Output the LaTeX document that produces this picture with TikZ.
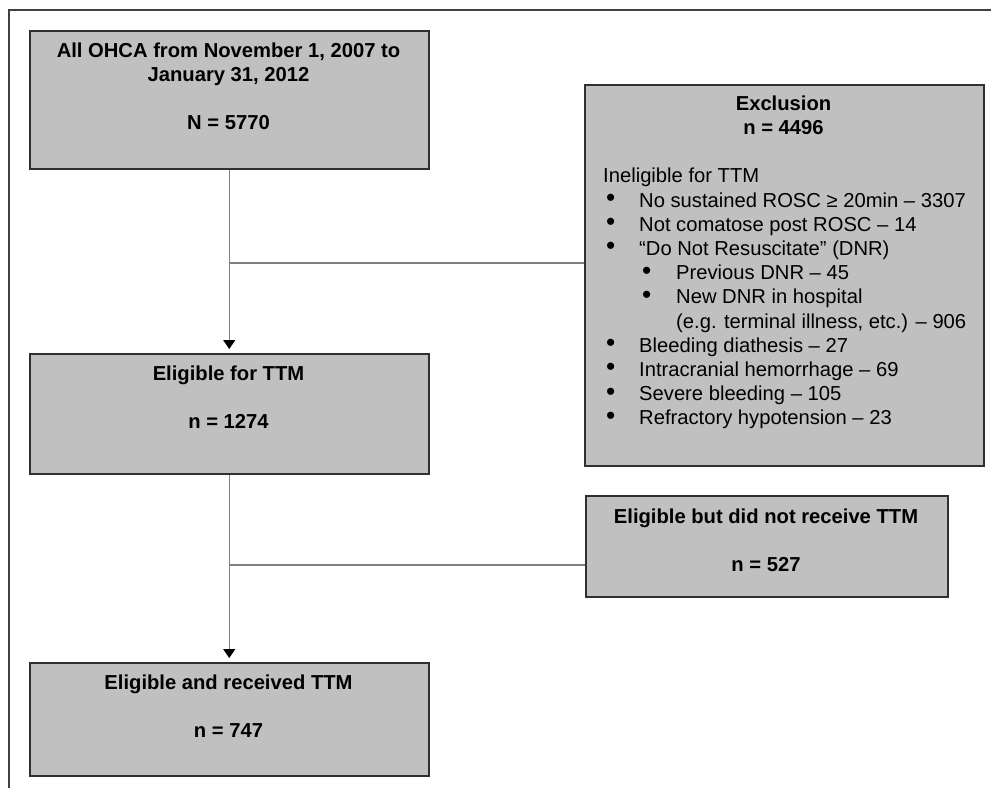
\documentclass[tikz,border=0pt]{standalone}
\usepackage{fontspec}
\setmainfont{Liberation Sans}
\usetikzlibrary{arrows.meta}
\definecolor{boxfill}{HTML}{C0C0C0}
\definecolor{boxline}{HTML}{303030}
\definecolor{conn}{HTML}{808080}
\newcommand\bulletmark{\raisebox{0.5pt}{\scalebox{1.3}{\textbullet}}}
\newcommand\bitem[1]{\makebox[36pt][l]{\hspace*{3pt}\bulletmark}#1}
\newcommand\sitem[1]{\hspace*{36pt}\makebox[37pt][l]{\hspace*{3pt}\bulletmark}#1}
\begin{document}
\begin{tikzpicture}[x=1pt,y=-1pt,
  flowbox/.style={draw=boxline,line width=1.5pt,fill=boxfill,inner sep=0pt,anchor=north west},
  boxtext/.style={inner sep=0pt,anchor=north,align=center,font=\fontsize{20.2}{24}\selectfont\bfseries},
  listtext/.style={inner sep=0pt,anchor=north west,align=left,font=\fontsize{20.2}{24.2}\selectfont},
  conline/.style={draw=conn,line width=1.3pt},
  arr/.style={conline,-{Triangle[length=9pt,width=12pt,fill=black,color=black]},shorten >=4pt}]
\useasboundingbox (0,0) rectangle (991,788);
% outer frame (top and left)
\draw[line width=2pt,draw=black!75] (9,788) -- (9,10) -- (991,10);
% boxes
\node[flowbox,minimum width=399pt,minimum height=138pt] (all) at (29,30) {};
\node[flowbox,minimum width=399pt,minimum height=381pt] (excl) at (584,84) {};
\node[flowbox,minimum width=399pt,minimum height=120pt] (elig) at (29,353) {};
\node[flowbox,minimum width=362pt,minimum height=101pt] (notrec) at (585,495) {};
\node[flowbox,minimum width=399pt,minimum height=113pt] (rec) at (29,662) {};
% texts
\node[boxtext] (t1) at (228.5,43) {All OHCA from November 1, 2007 to\\January 31, 2012\\[24pt]N = 5770};
\node[boxtext] (t2) at (783.5,96) {Exclusion\\n = 4496};
\node[listtext] (t3) at (603,168) {Ineligible for TTM\\
\bitem{No sustained ROSC ≥ 20min – 3307}\\
\bitem{Not comatose post ROSC – 14}\\
\bitem{“Do Not Resuscitate” (DNR)}\\
\sitem{Previous DNR – 45}\\
\sitem{New DNR in hospital}\\
\hspace*{73pt}(e.g. terminal illness, etc.) – 906\\
\bitem{Bleeding diathesis – 27}\\
\bitem{Intracranial hemorrhage – 69}\\
\bitem{Severe bleeding – 105}\\
\bitem{Refractory hypotension – 23}};
\node[boxtext] (t4) at (228.5,366) {Eligible for TTM\\[24pt]n = 1274};
\node[boxtext] (t5) at (766,509) {Eligible but did not receive TTM\\[24pt]n = 527};
\node[boxtext] (t6) at (228.5,675) {Eligible and received TTM\\[24pt]n = 747};
% connectors
\coordinate (j1) at (228.5,263);
\coordinate (j2) at (228.5,565);
\draw[arr] (all.south) -- (elig.north);
\draw[arr] (elig.south) -- (rec.north);
\draw[conline] (j1) -- (j1 -| excl.west);
\draw[conline] (j2) -- (j2 -| notrec.west);
\end{tikzpicture}
\end{document}
